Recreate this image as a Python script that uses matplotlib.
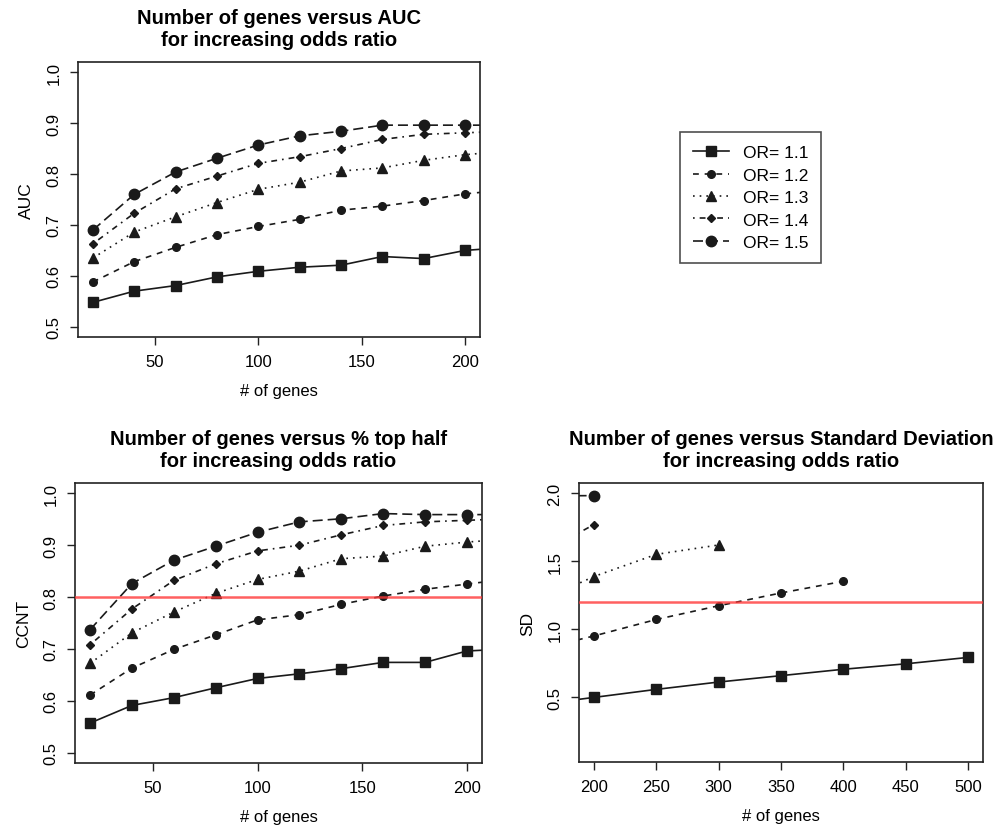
import matplotlib
matplotlib.use("Agg")
import matplotlib.pyplot as plt
from matplotlib.lines import Line2D
from matplotlib import font_manager

plt.rcParams['font.family'] = ['Liberation Sans', 'DejaVu Sans']

names = sorted({f.name for f in font_manager.fontManager.ttflist})
narrow = [n for n in names if 'Narrow' in n or 'Condensed' in n]
NARROW = ['Liberation Sans Narrow'] if 'Liberation Sans Narrow' in names else None

# ---------------- data ----------------
or_labels = ["OR= 1.1", "OR= 1.2", "OR= 1.3", "OR= 1.4", "OR= 1.5"]

genes_small = [20, 40, 60, 80, 100, 120, 140, 160, 180, 200, 220]

auc_or11 = [0.548, 0.570, 0.581, 0.598, 0.609, 0.617, 0.621, 0.638, 0.634, 0.650, 0.656]
auc_or12 = [0.588, 0.628, 0.656, 0.681, 0.697, 0.711, 0.729, 0.737, 0.748, 0.761, 0.769]
auc_or13 = [0.635, 0.686, 0.716, 0.744, 0.770, 0.784, 0.806, 0.812, 0.827, 0.838, 0.845]
auc_or14 = [0.663, 0.723, 0.771, 0.796, 0.821, 0.834, 0.850, 0.868, 0.878, 0.881, 0.884]
auc_or15 = [0.690, 0.760, 0.804, 0.831, 0.857, 0.875, 0.884, 0.896, 0.896, 0.896, 0.896]

ccnt_or11 = [0.557, 0.591, 0.606, 0.625, 0.643, 0.652, 0.662, 0.674, 0.674, 0.696, 0.700]
ccnt_or12 = [0.611, 0.663, 0.699, 0.727, 0.756, 0.766, 0.786, 0.802, 0.815, 0.825, 0.835]
ccnt_or13 = [0.672, 0.731, 0.771, 0.807, 0.834, 0.850, 0.874, 0.879, 0.898, 0.906, 0.912]
ccnt_or14 = [0.708, 0.777, 0.832, 0.864, 0.889, 0.900, 0.920, 0.938, 0.945, 0.948, 0.951]
ccnt_or15 = [0.737, 0.826, 0.871, 0.898, 0.925, 0.945, 0.951, 0.961, 0.959, 0.959, 0.959]
ccnt_threshold = 0.80

sd_genes_or11 = [150, 200, 250, 300, 350, 400, 450, 500]
sd_or11 = [0.44, 0.499, 0.558, 0.612, 0.659, 0.706, 0.746, 0.793]
sd_genes_or12 = [150, 200, 250, 300, 350, 400]
sd_or12 = [0.84, 0.951, 1.072, 1.173, 1.267, 1.353]
sd_genes_or13 = [150, 200, 250, 300]
sd_or13 = [1.18, 1.388, 1.551, 1.620]
sd_genes_or14 = [150, 200]
sd_or14 = [1.52, 1.770]
sd_genes_or15 = [150, 200]
sd_or15 = [1.98, 1.983]
sd_threshold = 1.20

# ---------------- styles ----------------
styles = [
    dict(marker='s', ms=6.5, dashes=None),
    dict(marker='o', ms=5.5, dashes=(3.5, 3.5)),
    dict(marker='^', ms=7, dashes=(1, 3)),
    dict(marker='D', ms=4.2, dashes=(1, 3, 3.5, 3)),
    dict(marker='o', ms=7.5, dashes=(6, 3)),
]
LW = 1.2
COL = '#1a1a1a'


def draw(ax, x, y, st):
    ln, = ax.plot(x, y, color=COL, lw=LW, marker=st['marker'], ms=st['ms'],
                  mfc=COL, mec=COL)
    if st['dashes'] is not None:
        ln.set_dashes(st['dashes'])
    return ln


def style_axes(ax, xlim, ylim, xticks, yticks, ylabel, title, tfont=None, tsize=14.5):
    ax.set_xlim(*xlim)
    ax.set_ylim(*ylim)
    ax.set_xticks(xticks)
    ax.set_yticks(yticks)
    ax.set_xticklabels([str(t) for t in xticks], fontsize=12)
    ax.set_yticklabels(["%.1f" % t for t in yticks], fontsize=12,
                       rotation=90, va='center')
    ax.tick_params(direction='out', length=6, width=1.0, pad=6, color='#222222')
    for s in ax.spines.values():
        s.set_linewidth(1.2)
        s.set_color('#222222')
    ax.set_xlabel("# of genes", fontsize=12, labelpad=10)
    ax.set_ylabel(ylabel, fontsize=12.5, labelpad=9)
    kw = {}
    if tfont is not None:
        kw['family'] = tfont
    ax.set_title(title, fontsize=tsize, fontweight='bold', pad=12,
                 linespacing=1.25, **kw)


fig = plt.figure(figsize=(10.05, 8.28), dpi=100)

ax1 = fig.add_axes([0.0776, 0.5918, 0.400, 0.3321])
ax2 = fig.add_axes([0.0746, 0.0773, 0.405, 0.3382])
ax3 = fig.add_axes([0.5761, 0.0785, 0.402, 0.3370])

auc_series = [auc_or11, auc_or12, auc_or13, auc_or14, auc_or15]
ccnt_series = [ccnt_or11, ccnt_or12, ccnt_or13, ccnt_or14, ccnt_or15]
sd_x = [sd_genes_or11, sd_genes_or12, sd_genes_or13, sd_genes_or14, sd_genes_or15]
sd_y = [sd_or11, sd_or12, sd_or13, sd_or14, sd_or15]

for ys, st in zip(auc_series, styles):
    draw(ax1, genes_small, ys, st)
style_axes(ax1, (12.8, 207.2), (0.48, 1.02), [50, 100, 150, 200],
           [0.5, 0.6, 0.7, 0.8, 0.9, 1.0], "AUC",
           "Number of genes versus AUC\nfor increasing odds ratio")

bt_size = 16.5 if NARROW else 14.5
ax2.axhline(ccnt_threshold, color='#ff3838', lw=1.8, alpha=0.8, zorder=5)
for ys, st in zip(ccnt_series, styles):
    draw(ax2, genes_small, ys, st)
style_axes(ax2, (12.8, 207.2), (0.48, 1.02), [50, 100, 150, 200],
           [0.5, 0.6, 0.7, 0.8, 0.9, 1.0], "CCNT",
           "Number of genes versus % top half\nfor increasing odds ratio",
           tfont=NARROW, tsize=bt_size)

ax3.axhline(sd_threshold, color='#ff3838', lw=1.8, alpha=0.8, zorder=5)
for xs, ys, st in zip(sd_x, sd_y, styles):
    draw(ax3, xs, ys, st)
style_axes(ax3, (188, 512), (0.024, 2.076), [200, 250, 300, 350, 400, 450, 500],
           [0.5, 1.0, 1.5, 2.0], "SD",
           "Number of genes versus Standard Deviation\nfor increasing odds ratio",
           tfont=NARROW, tsize=bt_size)

# legend
handles = []
for lab, st in zip(or_labels, styles):
    h = Line2D([0], [0], color=COL, lw=LW, marker=st['marker'], ms=st['ms'],
               mfc=COL, mec=COL)
    if st['dashes'] is not None:
        h.set_dashes(st['dashes'])
    handles.append(h)
leg = fig.legend(handles, or_labels, loc='upper left',
                 bbox_to_anchor=(680 / 1005, 1 - 133 / 828),
                 prop={'size': 12.5}, frameon=True, fancybox=False, edgecolor='#222222',
                 handlelength=2.1, handletextpad=0.75, labelspacing=0.42,
                 borderpad=0.75, borderaxespad=0)
leg.get_frame().set_linewidth(1.2)

print("narrow fonts:", narrow)
fig.savefig("out.png", dpi=100, facecolor='white')
